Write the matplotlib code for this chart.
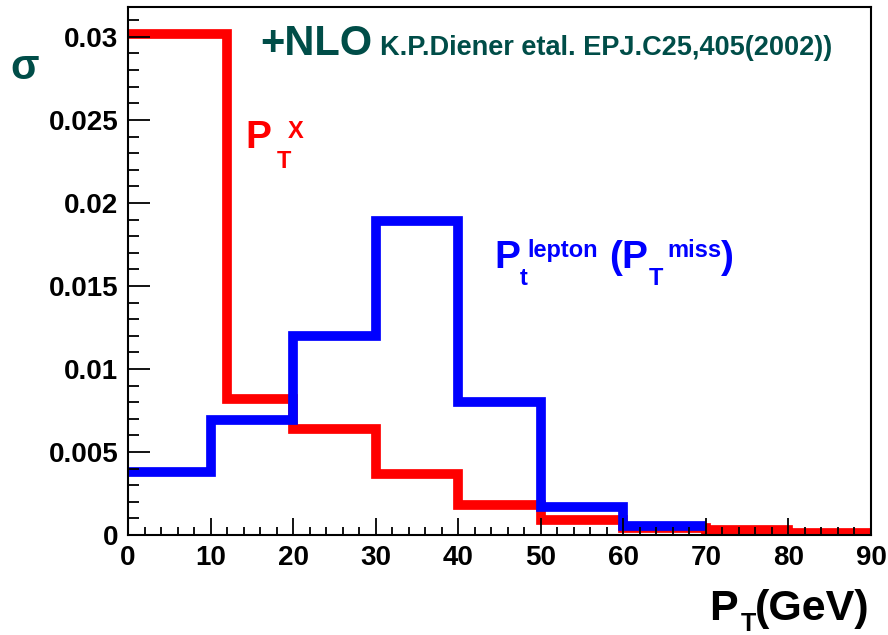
import matplotlib
matplotlib.use('Agg')
import matplotlib.pyplot as plt
from matplotlib.ticker import MultipleLocator, FixedLocator, FixedFormatter

# Helvetica-like bold font (ROOT style)
plt.rcParams['font.family'] = 'Liberation Sans'
plt.rcParams['font.weight'] = 'bold'

# data
red_edges = [0, 12, 20, 30, 40, 50, 60, 70, 80, 90]
red_sigma = [0.0302, 0.0082, 0.0064, 0.0037, 0.0018, 0.0009, 0.0004, 0.0003, 0.00015]
blue_edges = [0, 10, 20, 30, 40, 50, 60, 70]
blue_sigma = [0.0038, 0.0069, 0.0120, 0.0189, 0.0080, 0.0017, 0.00055]

y_ticks = [0, 0.005, 0.01, 0.015, 0.02, 0.025, 0.03]
y_labels = ['0', '0.005', '0.01', '0.015', '0.02', '0.025', '0.03']
x_ticks = [0, 10, 20, 30, 40, 50, 60, 70, 80, 90]

teal = '#004d48'
W, H = 888, 635

fig = plt.figure(figsize=(W / 100, H / 100), dpi=100)
ax = fig.add_axes([128 / W, 1 - 535 / H, (871 - 128) / W, (535 - 7) / H])

ax.stairs(red_sigma, red_edges, baseline=None, color='#ff0000', linewidth=7)
ax.stairs(blue_sigma, blue_edges, baseline=None, color='#0000ff', linewidth=7)

ax.set_xlim(0, 90)
ax.set_ylim(0, 0.0318)

# ticks
ax.xaxis.set_major_locator(FixedLocator(x_ticks))
ax.xaxis.set_minor_locator(MultipleLocator(2))
ax.yaxis.set_major_locator(FixedLocator(y_ticks))
ax.yaxis.set_major_formatter(FixedFormatter(y_labels))
ax.yaxis.set_minor_locator(MultipleLocator(0.001))
ax.tick_params(axis='both', which='both', direction='in', top=False, right=False,
               width=1.3, labelsize=20)
ax.tick_params(axis='y', which='major', length=16, pad=7)
ax.tick_params(axis='y', which='minor', length=8)
ax.tick_params(axis='x', which='major', length=12, pad=7)
ax.tick_params(axis='x', which='minor', length=6)
for s in ax.spines.values():
    s.set_linewidth(1.5)


# texts placed by pixel position (left, baseline) from the top-left corner
def put(x, y, s, size, color, ha='left', va='baseline'):
    fig.text(x / W, 1 - y / H, s, fontsize=size, color=color, ha=ha, va=va)


put(25, 68, 'σ', 30, teal, ha='center', va='center')
put(260, 55, '+NLO', 30, teal)
put(380, 55, 'K.P.Diener etal. EPJ.C25,405(2002))', 19.5, teal)

# P_T^X
red = '#ff0000'
put(245, 148, 'P', 28, red)
put(277, 168, 'T', 17, red)
put(288, 138, 'X', 17, red)

# P_t^lepton (P_T^miss)
blue = '#0000ff'
put(494, 268, 'P', 28, blue)
put(520, 285, 't', 17, blue)
put(527, 257, 'lepton', 17, blue)
put(609, 268, '(', 28, blue)
put(621, 268, 'P', 28, blue)
put(649, 285, 'T', 17, blue)
put(667, 257, 'miss', 17, blue)
put(721, 268, ')', 28, blue)

# axis title P_T(GeV)
put(709, 620, 'P', 31, 'black')
put(741, 631, 'T', 18, 'black')
put(755, 620, '(GeV)', 31, 'black')

fig.savefig('out.png', dpi=100)
